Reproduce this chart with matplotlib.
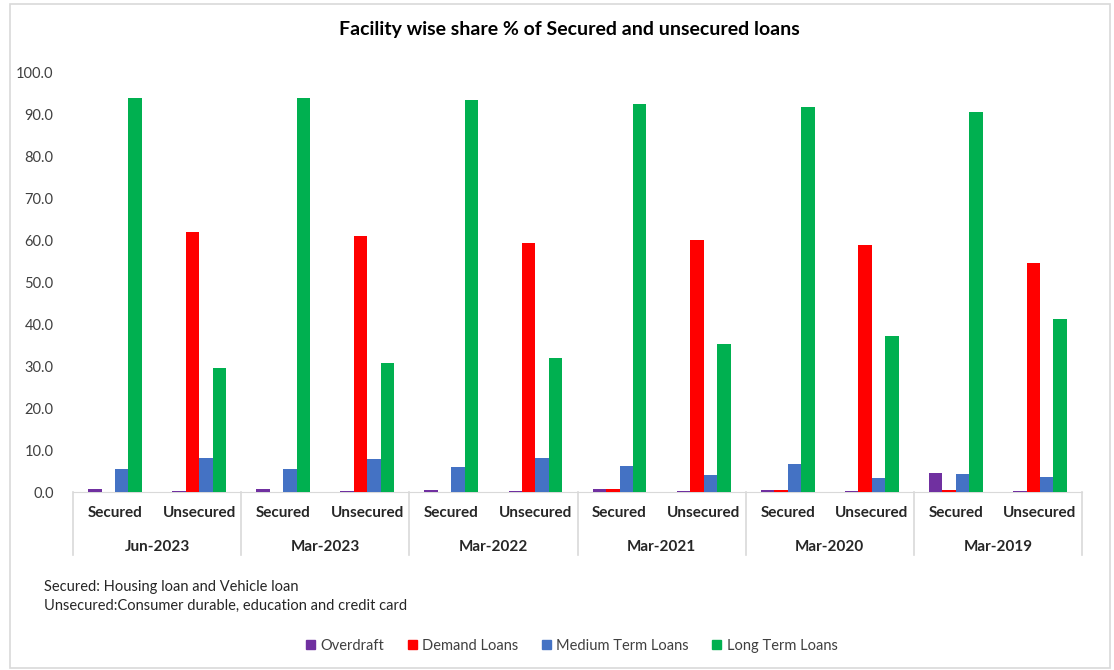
import matplotlib.pyplot as plt
import matplotlib.transforms as mtransforms
from matplotlib.patches import Rectangle, Patch
import numpy as np

plt.rcParams['font.family'] = ['Lato', 'DejaVu Sans']

# data
periods = ["Jun-2023", "Mar-2023", "Mar-2022", "Mar-2021", "Mar-2020", "Mar-2019"]
loan_types = ["Secured", "Unsecured"]
series_names = ["Overdraft", "Demand Loans", "Medium Term Loans", "Long Term Loans"]
series_colors = ["#7030A0", "#FF0000", "#4472C4", "#00B050"]

# order: per period -> Secured, Unsecured
overdraft = [0.7, 0.2, 0.7, 0.2, 0.5, 0.2, 0.7, 0.2, 0.5, 0.2, 4.6, 0.2]
demand = [0.0, 62.0, 0.0, 61.2, 0.0, 59.5, 0.7, 60.2, 0.4, 59.0, 0.4, 54.6]
medium = [5.5, 8.1, 5.5, 7.9, 6.0, 8.1, 6.2, 4.1, 6.6, 3.3, 4.3, 3.6]
long_term = [94.0, 29.7, 94.0, 30.7, 93.6, 31.9, 92.6, 35.3, 92.0, 37.3, 90.6, 41.3]

series = [overdraft, demand, medium, long_term]

fig = plt.figure(figsize=(11.14, 6.70), dpi=100)
fig.patches.append(Rectangle((10 / 1114, 2 / 670), 1100 / 1114, 664 / 670,
                             transform=fig.transFigure, fill=False,
                             edgecolor="#D9D9D9", linewidth=1.2))

ax = fig.add_axes([73 / 1114, 1 - 492 / 670, (1082 - 73) / 1114, (492 - 73) / 670])

x = np.arange(len(overdraft))
w = 0.16
for i, (vals, name, col) in enumerate(zip(series, series_names, series_colors)):
    ax.bar(x + (i - 1.5) * w, vals, width=w, color=col, label=name, zorder=3)

ax.set_xlim(-0.5, len(x) - 0.5)
ax.set_ylim(0, 100)
ax.set_yticks(np.arange(0, 101, 10))
ax.set_yticklabels([f"{v:.1f}" for v in np.arange(0, 101, 10)], fontsize=10.5, color="#404040")
ax.tick_params(axis="y", length=0, pad=14)
ax.set_xticks([])
for s in ["top", "right", "left"]:
    ax.spines[s].set_visible(False)
ax.spines["bottom"].set_color("#D9D9D9")

# multi-level category axis
trans = mtransforms.blended_transform_factory(ax.transData, ax.transAxes)
for b in np.arange(-0.5, len(x), 2):
    ax.plot([b, b], [0, -0.15], transform=trans, color="#D9D9D9", lw=1.2, clip_on=False)
for xi in x:
    ax.text(xi, -0.05, loan_types[xi % 2], transform=trans, ha="center", va="center",
            fontsize=11, fontweight="bold", color="#262626")
for gi, p in enumerate(periods):
    ax.text(2 * gi + 0.5, -0.131, p, transform=trans, ha="center", va="center",
            fontsize=11, fontweight="bold", color="#262626")

fig.text(569 / 1114, 1 - 30 / 670, "Facility wise share % of Secured and unsecured loans",
         ha="center", va="center", fontsize=14, fontweight="bold", color="#000000")

fig.text(44 / 1114, 1 - 587 / 670, "Secured: Housing loan and Vehicle loan",
         ha="left", va="center", fontsize=10.5, color="#262626")
fig.text(44 / 1114, 1 - 606 / 670, "Unsecured:Consumer durable, education and credit card",
         ha="left", va="center", fontsize=10.5, color="#262626")

handles = [Patch(color=c, label=n) for c, n in zip(series_colors, series_names)]
leg = fig.legend(handles=handles, loc="center", bbox_to_anchor=(572 / 1114, 1 - 646 / 670),
                 ncol=4, frameon=False, fontsize=10.5, handlelength=0.6, handleheight=0.6,
                 handletextpad=0.4, columnspacing=1.6)
for t in leg.get_texts():
    t.set_color("#404040")

fig.savefig("out.png", dpi=100)
